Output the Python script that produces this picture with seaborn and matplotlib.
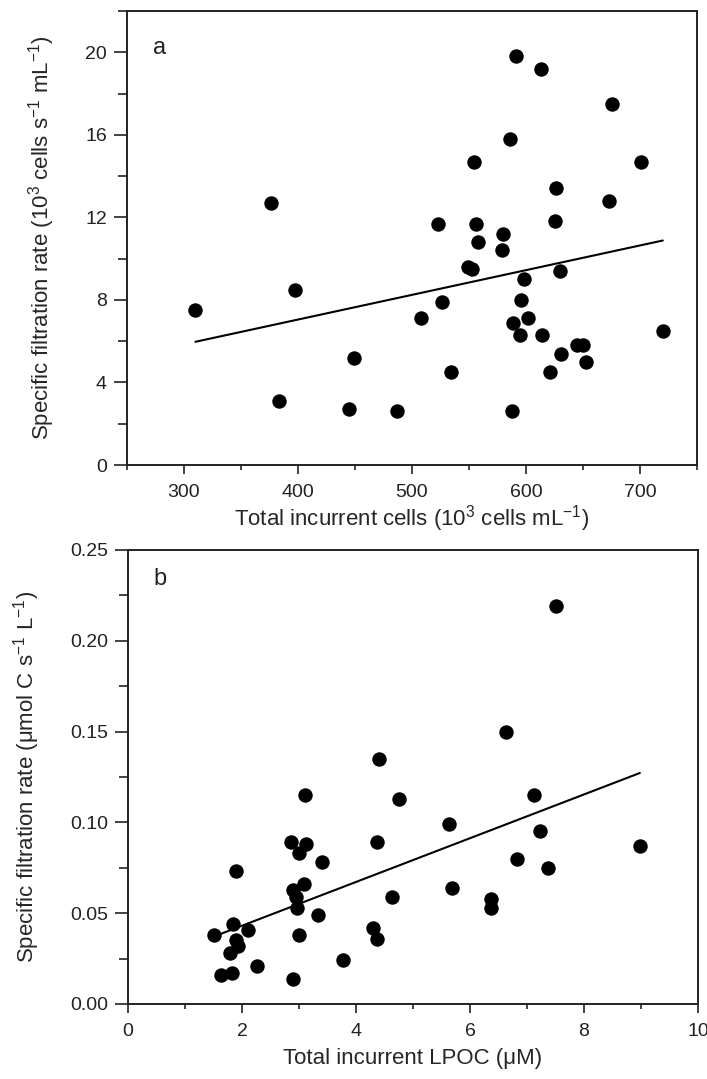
import numpy as np
import pandas as pd
import matplotlib
matplotlib.use("Agg")
import matplotlib.pyplot as plt
from matplotlib.ticker import MultipleLocator
import seaborn as sns

# ---- data ----
cells_x = [591, 613, 675, 586, 554, 701, 376, 626, 673, 523, 556, 625, 580, 558, 579,
           549, 553, 630, 598, 310, 397, 526, 596, 508, 602, 589, 595, 614, 720, 645,
           650, 631, 653, 449, 534, 621, 383, 445, 487, 588]
cells_y = [19.8, 19.2, 17.5, 15.8, 14.7, 14.7, 12.7, 13.4, 12.8, 11.7, 11.7, 11.8, 11.2,
           10.8, 10.4, 9.6, 9.5, 9.4, 9.0, 7.5, 8.5, 7.9, 8.0, 7.1, 7.1, 6.9, 6.3, 6.3,
           6.5, 5.8, 5.8, 5.4, 5.0, 5.2, 4.5, 4.5, 3.1, 2.7, 2.6, 2.6]

lpoc_x = [7.51, 6.63, 4.41, 3.10, 4.75, 7.12, 5.64, 7.23, 8.98, 2.86, 3.12, 4.37, 3.00,
          3.40, 6.83, 7.36, 1.90, 3.09, 5.69, 2.90, 2.95, 4.63, 6.36, 6.36, 2.97, 3.34,
          1.85, 2.10, 4.30, 4.37, 1.51, 3.00, 1.89, 1.93, 1.79, 2.27, 3.77, 1.64, 1.83, 2.90]
lpoc_y = [0.219, 0.150, 0.135, 0.115, 0.113, 0.115, 0.099, 0.095, 0.087, 0.089, 0.088,
          0.089, 0.083, 0.078, 0.080, 0.075, 0.073, 0.066, 0.064, 0.063, 0.059, 0.059,
          0.058, 0.053, 0.053, 0.049, 0.044, 0.041, 0.042, 0.036, 0.038, 0.038, 0.035,
          0.032, 0.028, 0.021, 0.024, 0.016, 0.017, 0.014]

# linear fits shown in the reference (intercept, slope)
fit_a = [2.26, 0.01197]
fit_b = [0.0190, 0.01205]

panel_labels = ["a", "b"]
xlabel_a = "Total incurrent cells (10$^{3}$ cells mL$^{-1}$)"
ylabel_a = "Specific filtration rate (10$^{3}$ cells s$^{-1}$ mL$^{-1}$)"
xlabel_b = "Total incurrent LPOC (\u03bcM)"
ylabel_b = "Specific filtration rate (\u03bcmol C s$^{-1}$ L$^{-1}$)"

# ---- style ----
sns.set_theme(style="ticks")
plt.rcParams["font.family"] = ["Liberation Sans", "DejaVu Sans"]
plt.rcParams["mathtext.default"] = "regular"
plt.rcParams["axes.linewidth"] = 1.4

fig = plt.figure(figsize=(7.07, 10.79), dpi=100)
W, H = 707, 1079
ax_a = fig.add_axes([127 / W, 1 - 465 / H, 570 / W, 454 / H])
ax_b = fig.add_axes([128 / W, 1 - 1004 / H, 570 / W, 454 / H])

df_a = pd.DataFrame({"x": cells_x, "y": cells_y})
df_b = pd.DataFrame({"x": lpoc_x, "y": lpoc_y})

for ax, df, fit in [(ax_a, df_a, fit_a), (ax_b, df_b, fit_b)]:
    sns.scatterplot(data=df, x="x", y="y", ax=ax, color="black", s=108,
                    linewidth=0, zorder=3)
    xs = np.array([df["x"].min(), df["x"].max()])
    line = pd.DataFrame({"x": xs, "y": fit[0] + fit[1] * xs})
    sns.lineplot(data=line, x="x", y="y", ax=ax, color="black", linewidth=1.5,
                 zorder=2)

# axes a
ax_a.set_xlim(250, 750)
ax_a.set_ylim(0, 22)
ax_a.xaxis.set_major_locator(MultipleLocator(100))
ax_a.xaxis.set_minor_locator(MultipleLocator(50))
ax_a.yaxis.set_major_locator(MultipleLocator(4))
ax_a.yaxis.set_minor_locator(MultipleLocator(2))
ax_a.set_xticks([300, 400, 500, 600, 700])
ax_a.set_xlabel(xlabel_a, fontsize=16, labelpad=2)
ax_a.set_ylabel(ylabel_a, fontsize=16, labelpad=20)

# axes b
ax_b.set_xlim(0, 10)
ax_b.set_ylim(0, 0.25)
ax_b.xaxis.set_major_locator(MultipleLocator(2))
ax_b.xaxis.set_minor_locator(MultipleLocator(1))
ax_b.yaxis.set_major_locator(MultipleLocator(0.05))
ax_b.yaxis.set_minor_locator(MultipleLocator(0.025))
ax_b.set_yticks([0, 0.05, 0.10, 0.15, 0.20, 0.25])
ax_b.set_yticklabels(["0.00", "0.05", "0.10", "0.15", "0.20", "0.25"])
ax_b.set_xlabel(xlabel_b, fontsize=16, labelpad=6)
ax_b.set_ylabel(ylabel_b, fontsize=16, labelpad=20)

for ax in (ax_a, ax_b):
    for sp in ax.spines.values():
        sp.set_visible(True)
        sp.set_linewidth(1.4)
        sp.set_color("#222222")
    ax.tick_params(axis="x", which="major", direction="out", length=6.5, width=1.2,
                   labelsize=14, pad=7, colors="#222222")
    ax.tick_params(axis="x", which="minor", direction="out", length=3.5, width=1.2,
                   colors="#222222")
    ax.tick_params(axis="y", which="major", direction="out", length=9.5, width=1.2,
                   labelsize=14, pad=5, colors="#222222")
    ax.tick_params(axis="y", which="minor", direction="out", length=6.5, width=1.2,
                   colors="#222222")
    ax.tick_params(labelcolor="#222222")

ax_a.text(0.046, 0.905, panel_labels[0], transform=ax_a.transAxes, fontsize=17,
          ha="left", va="baseline", color="#222222")
ax_b.text(0.044, 0.923, panel_labels[1], transform=ax_b.transAxes, fontsize=17,
          ha="left", va="baseline", color="#222222")

fig.savefig("out.png", dpi=100)
